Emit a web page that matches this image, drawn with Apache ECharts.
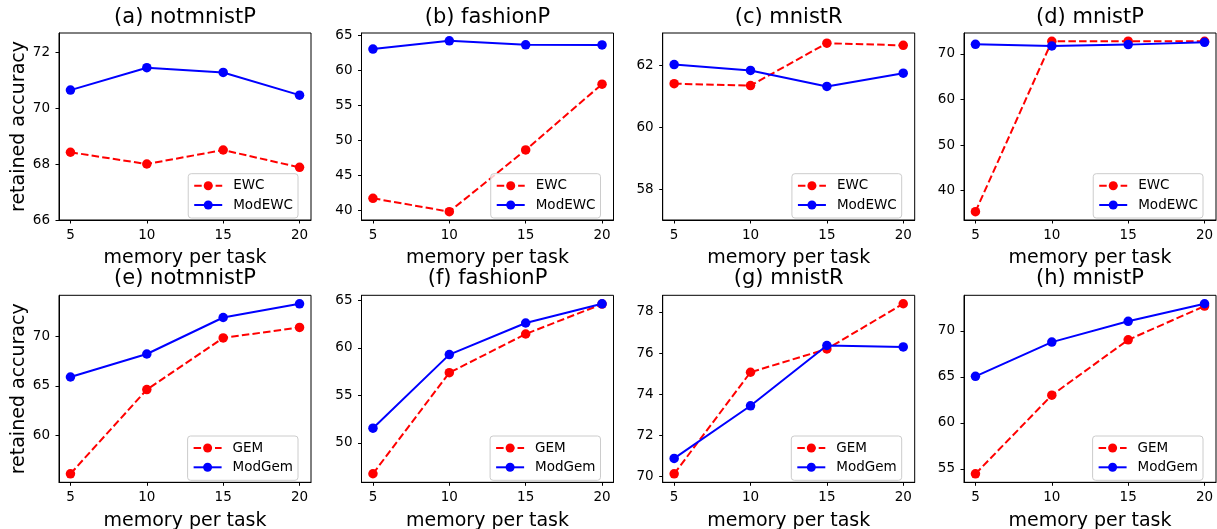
<!DOCTYPE html>
<html>
<head>
<meta charset="utf-8">
<script src="https://cdn.jsdelivr.net/npm/echarts@6/dist/echarts.min.js"></script>
<style>
  html, body { margin: 0; padding: 0; background: #ffffff; }
  #chart { width: 1217px; height: 529px; }
</style>
</head>
<body>
<div id="chart"></div>
<script>
// ---------------- data ----------------
const xValues = [5, 10, 15, 20];
const xTickLabels = [5, 10, 15, 20];

const panelTitles = ['(a) notmnistP', '(b) fashionP', '(c) mnistR', '(d) mnistP',
                     '(e) notmnistP', '(f) fashionP', '(g) mnistR', '(h) mnistP'];

// row 1: EWC vs ModEWC
const ewcNotmnistP    = [68.42, 68.00, 68.50, 67.88];
const modEwcNotmnistP = [70.64, 71.44, 71.27, 70.46];
const ewcFashionP     = [41.77, 39.86, 48.68, 58.08];
const modEwcFashionP  = [63.09, 64.28, 63.70, 63.68];
const ewcMnistR       = [61.41, 61.35, 62.72, 62.65];
const modEwcMnistR    = [62.03, 61.84, 61.32, 61.75];
const ewcMnistP       = [35.40, 72.78, 72.80, 72.78];
const modEwcMnistP    = [72.12, 71.75, 72.05, 72.56];

// row 2: GEM vs ModGem
const gemNotmnistP    = [56.14, 64.63, 69.84, 70.90];
const modGemNotmnistP = [65.90, 68.22, 71.90, 73.28];
const gemFashionP     = [46.74, 57.39, 61.47, 64.62];
const modGemFashionP  = [51.54, 59.30, 62.63, 64.65];
const gemMnistR       = [70.13, 75.07, 76.20, 78.40];
const modGemMnistR    = [70.88, 73.44, 76.37, 76.30];
const gemMnistP       = [54.46, 63.01, 69.03, 72.70];
const modGemMnistP    = [65.06, 68.78, 71.04, 72.95];

const baseNames = ['EWC', 'EWC', 'EWC', 'EWC', 'GEM', 'GEM', 'GEM', 'GEM'];
const modNames  = ['ModEWC', 'ModEWC', 'ModEWC', 'ModEWC', 'ModGem', 'ModGem', 'ModGem', 'ModGem'];
const baseData  = [ewcNotmnistP, ewcFashionP, ewcMnistR, ewcMnistP,
                   gemNotmnistP, gemFashionP, gemMnistR, gemMnistP];
const modData   = [modEwcNotmnistP, modEwcFashionP, modEwcMnistR, modEwcMnistP,
                   modGemNotmnistP, modGemFashionP, modGemMnistR, modGemMnistP];

const yLimits = [[66, 72.68], [38.67, 65.39], [57.0, 63.05], [33.58, 74.6],
                 [55.28, 74.14], [45.84, 65.55], [69.72, 78.81], [53.54, 73.87]];
const yTickLabels = [[66, 68, 70, 72], [40, 45, 50, 55, 60, 65], [58, 60, 62], [40, 50, 60, 70],
                     [60, 65, 70], [50, 55, 60, 65], [70, 72, 74, 76, 78], [55, 60, 65, 70]];
const xLimits = [4.25, 20.75];

const xAxisName = 'memory per task';
const yAxisName = 'retained accuracy';

// ---------------- layout ----------------
const W = 1217, H = 529;
const colLefts = [59, 361.5, 662.7, 964];
const rowTops = [33, 295.3];
const gridW = 252, gridH = 187;
const FONT = 'DejaVu Sans';

const grids = [], xAxes = [], yAxes = [], series = [], titles = [], legends = [];

for (let i = 0; i < 8; i++) {
  const r = Math.floor(i / 4), c = i % 4;
  const left = colLefts[c], top = rowTops[r];
  grids.push({
    left: left, top: top, width: gridW, height: gridH,
    show: true, borderColor: '#000000', borderWidth: 1,
    backgroundColor: 'transparent', containLabel: false, outerBoundsMode: 'none'
  });
  xAxes.push({
    type: 'value', gridIndex: i, min: xLimits[0], max: xLimits[1],
    name: xAxisName, nameLocation: 'middle', nameGap: 29,
    nameTextStyle: { fontFamily: FONT, fontSize: 19, color: '#000' },
    axisLine: { show: true, lineStyle: { color: '#000', width: 1 } },
    axisTick: { show: true, inside: false, length: 3.5, customValues: xTickLabels, lineStyle: { color: '#000', width: 1 } },
    axisLabel: { customValues: xTickLabels, margin: 8, fontFamily: FONT, fontSize: 13.5, color: '#000' },
    splitLine: { show: false }
  });
  yAxes.push({
    type: 'value', gridIndex: i, min: yLimits[i][0], max: yLimits[i][1],
    name: c === 0 ? yAxisName : '', nameLocation: 'middle', nameGap: 29, nameRotate: 90,
    nameTextStyle: { fontFamily: FONT, fontSize: 19, color: '#000' },
    axisLine: { show: true, lineStyle: { color: '#000', width: 1 } },
    axisTick: { show: true, inside: false, length: 3.5, customValues: yTickLabels[i], lineStyle: { color: '#000', width: 1 } },
    axisLabel: { customValues: yTickLabels[i], margin: 9, fontFamily: FONT, fontSize: 13.5, color: '#000' },
    splitLine: { show: false }
  });
  series.push({
    type: 'line', name: baseNames[i], xAxisIndex: i, yAxisIndex: i,
    data: xValues.map((x, k) => [x, baseData[i][k]]),
    symbol: 'circle', symbolSize: 9.5,
    itemStyle: { color: '#ff0000' },
    lineStyle: { color: '#ff0000', width: 2, type: [7.5, 3.2] },
    animation: false, z: 2
  });
  series.push({
    type: 'line', name: modNames[i], xAxisIndex: i, yAxisIndex: i,
    data: xValues.map((x, k) => [x, modData[i][k]]),
    symbol: 'circle', symbolSize: 9.5,
    itemStyle: { color: '#0000ff' },
    lineStyle: { color: '#0000ff', width: 2, type: 'solid' },
    animation: false, z: 3
  });
  titles.push({
    text: panelTitles[i], left: left + gridW / 2, top: r === 0 ? 7 : 268.5,
    textAlign: 'center', padding: 0,
    textStyle: { fontFamily: FONT, fontSize: 21, fontWeight: 'normal', color: '#000' }
  });
  legends.push({
    data: [baseNames[i], modNames[i]],
    orient: 'vertical',
    right: W - (left + gridW - 13),
    bottom: H - (top + gridH - 2),
    itemWidth: 28, itemHeight: 11.25, itemGap: 3.3,
    padding: [4, 5, 5, 5],
    backgroundColor: 'rgba(255,255,255,0.8)',
    borderColor: '#cccccc', borderWidth: 1, borderRadius: 3,
    textStyle: { fontFamily: FONT, fontSize: 13.5, color: '#000', lineHeight: 16, padding: [0, 0, 0, 6] },
    selectedMode: false
  });
}

const chart = echarts.init(document.getElementById('chart'), null, { renderer: 'canvas', width: W, height: H });
chart.setOption({
  animation: false,
  backgroundColor: '#ffffff',
  title: titles,
  legend: legends,
  grid: grids,
  xAxis: xAxes,
  yAxis: yAxes,
  series: series
});
</script>
</body>
</html>
